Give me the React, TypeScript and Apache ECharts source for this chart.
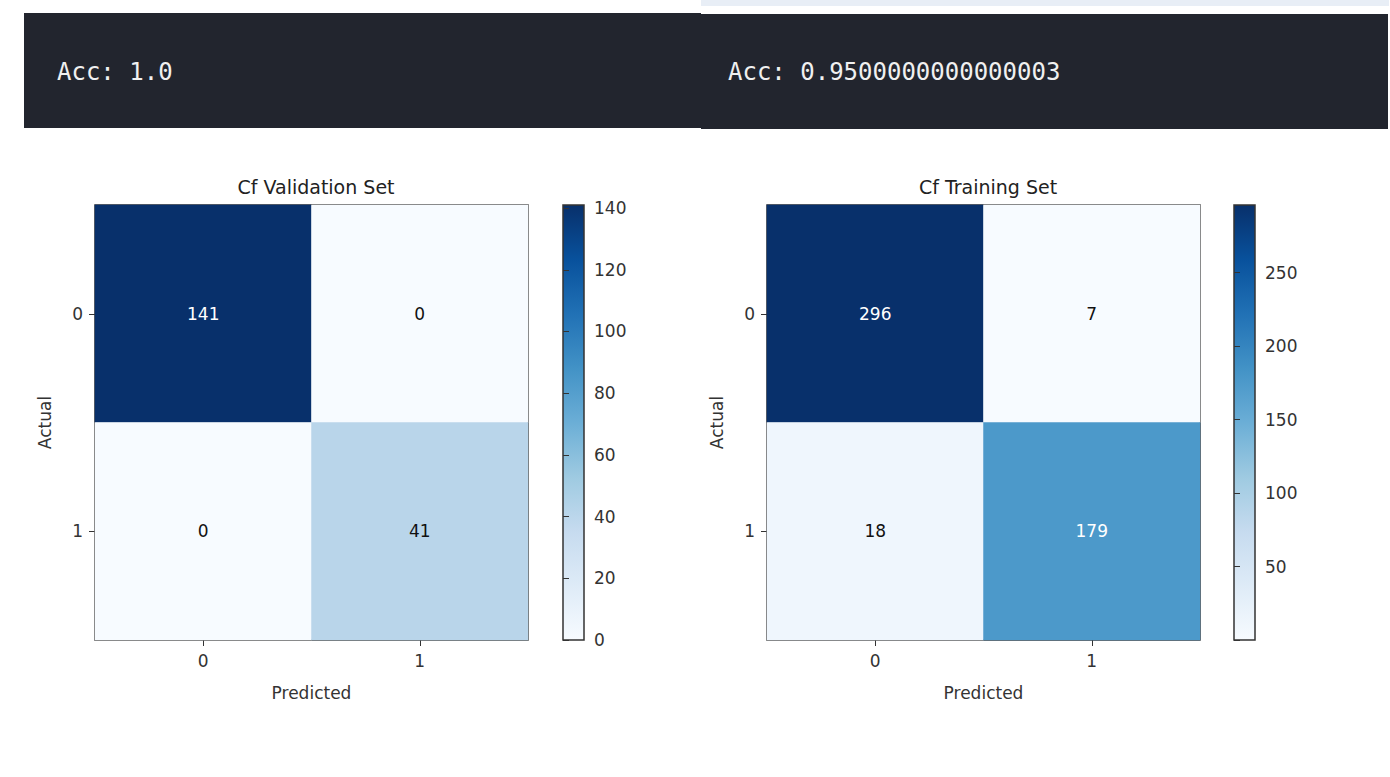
import { useEffect, useRef } from 'react';
import * as echarts from 'echarts';

const categories = ['0', '1'];
// [predictedIdx, actualIdx, value]
const valData = [[0, 0, 141], [1, 0, 0], [0, 1, 0], [1, 1, 41]];
const trainData = [[0, 0, 296], [1, 0, 7], [0, 1, 18], [1, 1, 179]];
const valRange = [0, 141];
const trainRange = [7, 296];
const valAcc = 'Acc: 1.0';
const trainAcc = 'Acc: 0.9500000000000003';

const blues = ['#f7fbff', '#deebf7', '#c6dbef', '#9ecae1', '#6baed6', '#4292c6', '#2171b5', '#08519c', '#08306b'];
const font = 'DejaVu Sans';

const App = () => {
    const chartRef = useRef<HTMLDivElement | null>(null);

    useEffect(() => {
        if (!chartRef.current) return;
        const chart = echarts.init(chartRef.current, null, { renderer: 'svg' });

        const barGrad = new echarts.graphic.LinearGradient(0, 1, 0, 0,
            blues.map((c, i) => ({ offset: i / (blues.length - 1), color: c })));

        const heatGrid = (left: number) => ({ left, top: 205, width: 433, height: 435, show: true, borderColor: '#333', borderWidth: 1.5, backgroundColor: 'transparent' });
        const barGrid = (left: number) => ({ left, top: 205, width: 21, height: 435, show: true, borderColor: '#333', borderWidth: 1.5, backgroundColor: barGrad });

        const axisText = { color: '#333', fontFamily: font, fontSize: 17 };
        const xCat = (gi: number) => ({
            type: 'category', gridIndex: gi, data: categories, position: 'bottom',
            name: 'Predicted', nameLocation: 'middle', nameGap: 44, nameTextStyle: axisText,
            axisLine: { show: false }, axisTick: { show: true, alignWithLabel: true, length: 6, lineStyle: { color: '#333' } },
            axisLabel: { ...axisText, margin: 12 }, splitLine: { show: false }
        });
        const yCat = (gi: number) => ({
            type: 'category', gridIndex: gi, data: categories, inverse: true,
            name: 'Actual', nameLocation: 'middle', nameGap: 42, nameTextStyle: axisText,
            axisLine: { show: false }, axisTick: { show: true, alignWithLabel: true, length: 6, lineStyle: { color: '#333' } },
            axisLabel: { ...axisText, margin: 12 }, splitLine: { show: false }
        });
        const barX = (gi: number) => ({ type: 'value', gridIndex: gi, show: false, min: 0, max: 1 });
        const barY = (gi: number, range: number[], interval: number, min: number) => ({
            type: 'value', gridIndex: gi, position: 'right', min, max: range[1], interval,
            axisLine: { show: false }, splitLine: { show: false },
            axisTick: { show: true, length: 6, lineStyle: { color: '#333' } },
            axisLabel: { ...axisText, margin: 10, showMinLabel: true, showMaxLabel: false,
                formatter: (v: number) => (v < range[0] ? '' : String(v)) }
        });

        const cellLabel = (maxV: number) => ({
            show: true, fontFamily: font, fontSize: 17,
            formatter: (p: any) => String(p.value[2]),
            color: '#000',
            rich: {}
        });

        const heat = (gi: number, data: number[][], maxV: number) => ({
            type: 'heatmap', xAxisIndex: gi, yAxisIndex: gi, data: data.map((d) => ({
                value: d,
                label: { color: d[2] > maxV / 2 ? '#fff' : '#111' }
            })),
            label: cellLabel(maxV), emphasis: { disabled: true }
        });

        chart.setOption({
            animation: false,
            backgroundColor: '#fff',
            title: [
                { text: 'Cf Validation Set', left: 311, top: 172, textAlign: 'center', textStyle: { fontFamily: font, fontSize: 19, fontWeight: 'normal', color: '#222' } },
                { text: 'Cf Training Set', left: 983, top: 172, textAlign: 'center', textStyle: { fontFamily: font, fontSize: 19, fontWeight: 'normal', color: '#222' } }
            ],
            graphic: [
                { type: 'rect', shape: { x: 701, y: 0, width: 688, height: 6 }, style: { fill: '#e8eef6' } },
                { type: 'rect', shape: { x: 24, y: 13, width: 677, height: 115 }, style: { fill: '#22252e' } },
                { type: 'rect', shape: { x: 701, y: 14, width: 687, height: 115 }, style: { fill: '#22252e' } },
                { type: 'text', x: 57, y: 72, style: { text: valAcc, fill: '#f0f0f0', font: '24px "DejaVu Sans Mono"', textVerticalAlign: 'middle' } },
                { type: 'text', x: 728, y: 72, style: { text: trainAcc, fill: '#f0f0f0', font: '24px "DejaVu Sans Mono"', textVerticalAlign: 'middle' } }
            ],
            grid: [heatGrid(95), barGrid(563), heatGrid(767), barGrid(1234)],
            xAxis: [xCat(0), barX(1), xCat(2), barX(3)],
            yAxis: [yCat(0), barY(1, valRange, 20, 0), yCat(2), barY(3, trainRange, 50, 0)],
            visualMap: [
                { type: 'continuous', show: false, seriesIndex: 0, min: valRange[0], max: valRange[1], inRange: { color: blues } },
                { type: 'continuous', show: false, seriesIndex: 2, min: trainRange[0], max: trainRange[1], inRange: { color: blues } }
            ],
            series: [
                heat(0, valData, valRange[1]),
                { type: 'scatter', xAxisIndex: 1, yAxisIndex: 1, data: [] },
                heat(2, trainData, trainRange[1]),
                { type: 'scatter', xAxisIndex: 3, yAxisIndex: 3, data: [] }
            ]
        });

        return () => chart.dispose();
    }, []);

    return <div ref={chartRef} style={{ position: 'fixed', left: 0, top: 0, width: 1390, height: 777 }} />;
};

export default App;
